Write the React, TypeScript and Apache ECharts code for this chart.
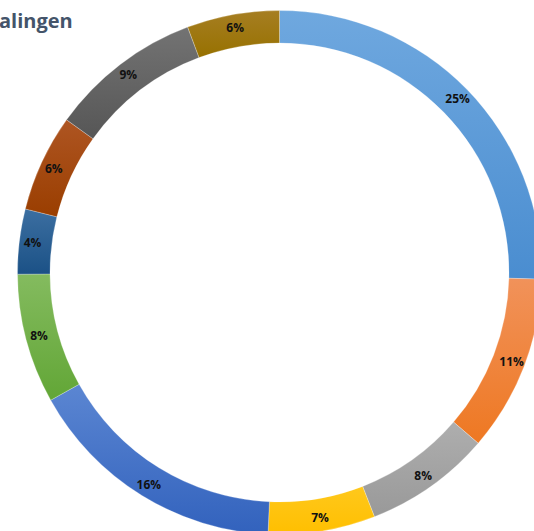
import React, { useEffect, useRef } from "react";
import * as echarts from "echarts";

const titleText = "alingen";
const categories = ["A", "B", "C", "D", "E", "F", "G", "H", "I", "J"];
const values = [25.4, 10.9, 7.8, 6.6, 16.2, 8.0, 4.0, 6.0, 9.4, 5.7];
const topColors = ["#6FA8DF", "#F1925A", "#AEAEAE", "#FFC81C", "#5B86D2", "#84BB5F", "#3C6FA1", "#AE5522", "#737373", "#A67E22"];
const bottomColors = ["#4A8DD0", "#EE7822", "#999999", "#FFBF00", "#3262BD", "#62A636", "#1B5186", "#9A3E00", "#565656", "#977100"];

export default function App() {
  const ref = useRef<HTMLDivElement>(null);
  useEffect(() => {
    if (!ref.current) return;
    const chart = echarts.init(ref.current, null, { renderer: "svg" });
    const data = categories.map((name, i) => ({
      name,
      value: values[i],
      itemStyle: {
        color: new echarts.graphic.LinearGradient(0, 0, 0, 1, [
          { offset: 0, color: topColors[i] },
          { offset: 1, color: bottomColors[i] },
        ]),
      },
    }));
    chart.setOption({
      animation: false,
      backgroundColor: "#ffffff",
      graphic: [
        {
          type: "text",
          left: -1,
          top: 10,
          style: {
            text: titleText,
            fill: "#44546A",
            font: "bold 20px 'Open Sans', sans-serif",
          },
        },
      ],
      series: [
        {
          type: "pie",
          center: [279.5, 272.5],
          radius: [229.5, 262],
          startAngle: 90,
          clockwise: true,
          avoidLabelOverlap: false,
          itemStyle: { borderColor: "rgba(255,255,255,0.5)", borderWidth: 0.5 },
          label: {
            show: true,
            position: "inside",
            color: "#111111",
            fontSize: 12,
            fontWeight: "bold",
            fontFamily: "'Open Sans', sans-serif",
            formatter: (p: any) => Math.round(p.percent) + "%",
          },
          labelLine: { show: false },
          emphasis: { disabled: true },
          data,
        },
      ],
    });
    return () => chart.dispose();
  }, []);
  return (
    <div
      ref={ref}
      style={{ position: "fixed", left: 0, top: 0, width: 534, height: 531 }}
    />
  );
}
